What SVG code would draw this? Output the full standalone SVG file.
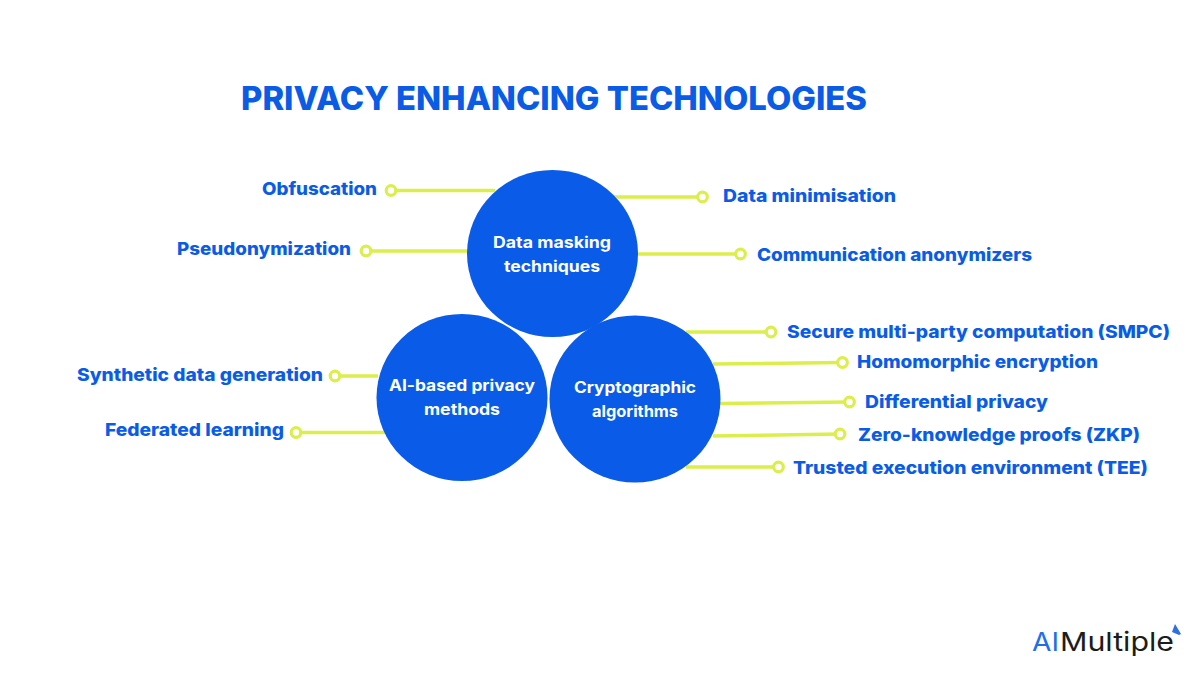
<svg xmlns="http://www.w3.org/2000/svg" width="1200" height="675" viewBox="0 0 1200 675">
<style>
text{font-family:Inter,"Open Sans","Liberation Sans",sans-serif}
.l{font-weight:800;font-size:17.500px;fill:#0a5ce6}
.c{font-weight:700;font-size:15.500px;fill:#fff;text-anchor:middle}
.w{stroke:#dcee4c;stroke-width:3.500;fill:none}
.d{stroke:#dcee4c;stroke-width:3.200;fill:#fff}
.n{fill:#0a5ce8}
</style>
<rect width="1200" height="675" fill="#fff"/>
<text x="241" y="110" font-weight="800" font-size="33" fill="#0a5ce6" textLength="626" lengthAdjust="spacingAndGlyphs">PRIVACY ENHANCING TECHNOLOGIES</text>
<g id="connectors">
<path class="w" d="M391 190.500H495M366 251H470M702 197H612M740 254H636M771 332H686M842 362.500L713 364M849 402L720 403.500M840 434L713 436M778 467H686M335 376H378M296 432.500H385"/>
<circle class="d" cx="391" cy="190.500" r="4.800"/><circle class="d" cx="366" cy="251" r="4.800"/><circle class="d" cx="702.500" cy="197" r="4.800"/><circle class="d" cx="740.500" cy="254" r="4.800"/><circle class="d" cx="771" cy="332" r="4.800"/><circle class="d" cx="842.500" cy="362.500" r="4.800"/><circle class="d" cx="849.500" cy="402" r="4.800"/><circle class="d" cx="840" cy="434" r="4.800"/><circle class="d" cx="778.500" cy="467" r="4.800"/><circle class="d" cx="335" cy="376" r="4.800"/><circle class="d" cx="296" cy="432.500" r="4.800"/>
</g>
<g id="node-masking"><ellipse class="n" cx="552.500" cy="253.500" rx="85.500" ry="83.500"/><text class="c" x="552" y="248" textLength="118" lengthAdjust="spacingAndGlyphs">Data masking</text><text class="c" x="552" y="272" textLength="96" lengthAdjust="spacingAndGlyphs">techniques</text></g>
<g id="node-ai"><ellipse class="n" cx="462" cy="397.500" rx="85.500" ry="83.500"/><text class="c" x="462" y="391" textLength="146" lengthAdjust="spacingAndGlyphs">AI-based privacy</text><text class="c" x="462" y="415" textLength="76" lengthAdjust="spacingAndGlyphs">methods</text></g>
<g id="node-crypto"><ellipse class="n" cx="635" cy="399" rx="85.500" ry="83.500"/><text class="c" x="635" y="392.500" textLength="122" lengthAdjust="spacingAndGlyphs">Cryptographic</text><text class="c" x="635" y="416.500" textLength="86" lengthAdjust="spacingAndGlyphs">algorithms</text></g>
<g id="labels">
<text class="l" x="262" y="195" textLength="115" lengthAdjust="spacingAndGlyphs">Obfuscation</text>
<text class="l" x="177" y="255" textLength="174" lengthAdjust="spacingAndGlyphs">Pseudonymization</text>
<text class="l" x="723" y="202" textLength="173" lengthAdjust="spacingAndGlyphs">Data minimisation</text>
<text class="l" x="757" y="261" textLength="275" lengthAdjust="spacingAndGlyphs">Communication anonymizers</text>
<text class="l" x="787" y="338" textLength="383" lengthAdjust="spacingAndGlyphs">Secure multi-party computation (SMPC)</text>
<text class="l" x="857" y="368" textLength="241" lengthAdjust="spacingAndGlyphs">Homomorphic encryption</text>
<text class="l" x="865" y="408" textLength="183" lengthAdjust="spacingAndGlyphs">Differential privacy</text>
<text class="l" x="858" y="441" textLength="282" lengthAdjust="spacingAndGlyphs">Zero-knowledge proofs (ZKP)</text>
<text class="l" x="793" y="474" textLength="355" lengthAdjust="spacingAndGlyphs">Trusted execution environment (TEE)</text>
<text class="l" x="77" y="381" textLength="246" lengthAdjust="spacingAndGlyphs">Synthetic data generation</text>
<text class="l" x="105" y="436" textLength="179" lengthAdjust="spacingAndGlyphs">Federated learning</text>
</g>
<g id="logo">
<text x="1032" y="651" font-size="26" font-weight="400" fill="#1f6fe8" textLength="27" lengthAdjust="spacingAndGlyphs">AI</text>
<text x="1060" y="651" font-size="26" font-weight="400" fill="#1c1c1c" textLength="114" lengthAdjust="spacingAndGlyphs">Multiple</text>
<path d="M1172 632L1175 624L1181 634L1179 635Z" fill="#2f6fe6"/>
</g>
</svg>
